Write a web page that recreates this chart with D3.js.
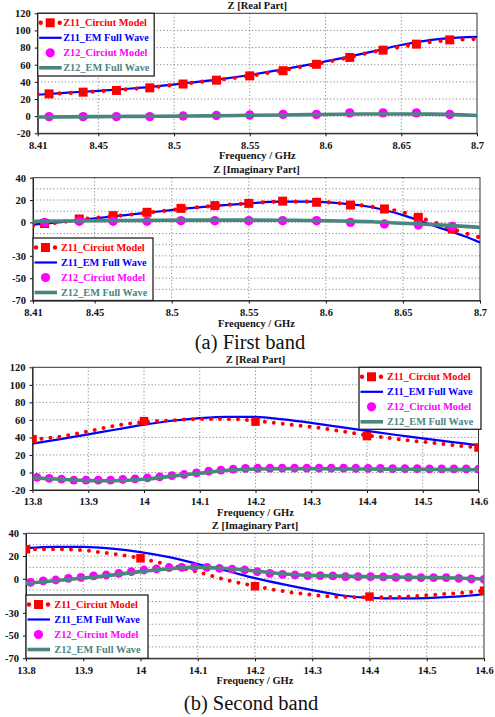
<!DOCTYPE html>
<html>
<head>
<meta charset="utf-8">
<script src="https://cdn.jsdelivr.net/npm/d3@7"></script>
<style>
body { margin: 0; background: #fff; }
svg { display: block; }
</style>
</head>
<body>
<svg id="chart" width="495" height="717"></svg>
<script>
// ---- First band (8.41 - 8.7 GHz) ----
const band1F = [8.41, 8.43, 8.45, 8.47, 8.49, 8.51, 8.53, 8.55, 8.57, 8.59, 8.61, 8.63, 8.65, 8.67, 8.69, 8.70];
const band1MarkF = [8.4175, 8.44, 8.462, 8.484, 8.506, 8.528, 8.55, 8.572, 8.594, 8.616, 8.638, 8.66, 8.682];

// real part
const z11EmRe1 = [25, 27.5, 29.5, 32, 35, 39, 43, 48, 54, 60.5, 67.5, 75, 83, 89, 92, 92.5];
const z11CirRe1 = [25.5, 27, 29, 31.5, 34.5, 38.5, 42.5, 47, 53, 59.5, 66.5, 74.5, 81, 86.5, 89.5, 90];
const z11CirRe1Mark = [26, 28, 30, 33, 37.5, 42, 47, 53, 60.5, 68.5, 77, 84, 89];
const z12CirRe1 = [-0.5, -0.5, -0.5, -0.5, 0.2, 0.8, 1.3, 2, 2, 3.8, 3.8, 3.8, 2];
const z12EmRe1 = [-1, -0.8, -0.5, -0.3, -0.1, 0.2, 0.5, 1, 1.4, 1.8, 2.2, 2.5, 2.6, 2.4, 1.5, 0.8];

// imaginary part
const z11EmIm1 = [-2, 0.5, 3.5, 6.5, 9.5, 12.5, 15, 17, 18.5, 18.5, 17, 13.5, 6.5, -3, -12.5, -18];
const z11CirIm1 = [-3, 0.5, 4, 6.5, 9.5, 12.5, 15, 17, 18.5, 18.5, 17, 14, 9, 0, -9.5, -13.5];
const z11CirIm1Mark = [-1, 3, 6, 9, 12.5, 15, 17, 19, 18, 15.5, 12, 4.5, -6];
const z12CirIm1 = [0, 1, 1, 1, 1.5, 1.5, 1.5, 1.5, 1.5, 0, -1.5, -2.4, -3.6];
const z12EmIm1 = [1, 1.2, 1.5, 1.7, 1.9, 2, 2, 2, 1.9, 1.7, 1.2, 0.5, -0.8, -2, -3.6, -4.5];

// ---- Second band (13.8 - 14.6 GHz) ----
const band2F = [13.8, 13.85, 13.9, 13.95, 14.0, 14.05, 14.1, 14.15, 14.2, 14.25, 14.3, 14.35, 14.4, 14.45, 14.5, 14.55, 14.6];
const band2SqF = [13.8, 14.0, 14.2, 14.4, 14.6];
const band2CircF = [13.808, 13.830, 13.852, 13.874, 13.896, 13.918, 13.940, 13.962, 13.984, 14.006,
  14.028, 14.050, 14.072, 14.094, 14.116, 14.138, 14.160, 14.182, 14.204, 14.226,
  14.248, 14.270, 14.292, 14.314, 14.336, 14.358, 14.380, 14.402, 14.424, 14.446,
  14.468, 14.490, 14.512, 14.534, 14.556, 14.578, 14.600];

// real part
const z11EmRe2 = [33, 38, 43.5, 49, 54.5, 59, 62, 63.5, 63.5, 60.5, 56.5, 52, 47.5, 43, 39, 35, 31];
const z11CirRe2 = [37.5, 41, 47, 53.5, 57.5, 59.5, 61, 61, 59, 55.5, 52, 47.5, 42.5, 38.5, 35, 31.5, 28.5];
const z11CirRe2Mark = [38, 58.6, 58, 41.5, 28.5];
const z12CirRe2 = [-5.7, -6.8, -7.6, -8.8, -8.8, -8.8, -8.8, -8.0, -7.2, -6.1, -5.0, -3.5, -2.3, -0.4, 1.5, 2.7, 3.8, 4.6,
  4.8, 5, 5, 5, 5, 5, 5, 4.9, 4.8, 4.7, 4.6, 4.5, 4.4, 4.3, 4.2, 4.1, 4.0, 4.0, 3.9];
const z12EmRe2 = [-6.2, -7.8, -9.3, -9.4, -7.8, -4.2, -0.8, 2.6, 4.0, 4.3, 4.3, 4.1, 3.9, 3.7, 3.5, 3.3, 3.1];

// imaginary part
const z11EmIm2 = [27, 28, 28, 26.5, 23.5, 19, 13, 7, 0.5, -5, -10, -14.5, -16.8, -17.3, -17, -15.8, -13.5];
const z11CirIm2 = [26, 26, 25, 22, 18, 12, 6, -1, -6.5, -11, -14.2, -16, -16.3, -16, -14.5, -12.8, -10.5];
const z11CirIm2Mark = [26, 18, -6.6, -15.7, -10.5];
const z12CirIm2 = [-3.1, -1.9, -1.1, 0.4, 1.3, 2.5, 3.3, 4.8, 6.3, 7.7, 8.6, 9.8, 10.1, 10.4, 10.1, 9.2, 8.4, 7.7,
  6.3, 4.8, 3.8, 3.3, 2.7, 2.7, 2.5, 1.9, 1.9, 1.9, 1.6, 1.3, 1.3, 1.0, 1.0, 1.0, 0.4, -0.2, -0.5];
const z12EmIm2 = [-4, -1.8, 0.6, 3.2, 6.3, 8.8, 10, 9, 6.8, 4.2, 3, 2.3, 1.8, 1.5, 1.1, 0.6, -0.2];

// ---- axes ----
const band1Ticks = [8.41, 8.45, 8.5, 8.55, 8.6, 8.65, 8.7];
const band2Ticks = [13.8, 13.9, 14, 14.1, 14.2, 14.3, 14.4, 14.5, 14.6];
const realTicks = [-20, 0, 20, 40, 60, 80, 100, 120];
const imagTicks = [-70, -50, -30, 0, 20, 40];
const imagGrid = [-60, -50, -40, -30, -20, -10, 0, 10, 20, 30];

const legendNames = ["Z11_Circiut Model", "Z11_EM Full Wave", "Z12_Circiut Model", "Z12_EM Full Wave"];

const svg = d3.select("#chart");
const FONT = "'Liberation Serif', 'Times New Roman', serif";
const RED = "#ff0000", BLUE = "#0000ff", MAGENTA = "#ff00ff", TEAL = "#4b857f";
const colors = [RED, BLUE, MAGENTA, TEAL];

function drawPanel(p, idx) {
    const x = d3.scaleLinear().domain(p.xDomain).range([p.left, p.right]);
    const y = d3.scaleLinear().domain(p.yDomain).range([p.bottom, p.top]);
    const g = svg.append("g");

    g.append("clipPath").attr("id", "clip" + idx)
        .append("rect")
        .attr("x", p.left).attr("y", p.top)
        .attr("width", p.right - p.left).attr("height", p.bottom - p.top);

    // grid
    g.append("g").selectAll("line")
        .data(p.xTicks.slice(1, -1))
        .join("line")
        .attr("x1", d => x(d)).attr("x2", d => x(d))
        .attr("y1", p.top).attr("y2", p.bottom)
        .attr("stroke", "#8a8a8a").attr("stroke-dasharray", "1.2,2.2");
    g.append("g").selectAll("line")
        .data(p.yGrid)
        .join("line")
        .attr("x1", p.left).attr("x2", p.right)
        .attr("y1", d => y(d)).attr("y2", d => y(d))
        .attr("stroke", "#8a8a8a").attr("stroke-dasharray", "1.2,2.2");

    // axes
    const ax = g.append("g")
        .attr("transform", `translate(0,${p.bottom})`)
        .call(d3.axisBottom(x).tickValues(p.xTicks).tickFormat(d => String(d))
            .tickSizeInner(3).tickSizeOuter(0).tickPadding(5));
    const ay = g.append("g")
        .attr("transform", `translate(${p.left},0)`)
        .call(d3.axisLeft(y).tickValues(p.yTicks).tickFormat(d => String(d))
            .tickSizeInner(3).tickSizeOuter(0).tickPadding(4));
    [ax, ay].forEach(a => {
        a.attr("font-family", FONT).attr("font-size", 10.5).attr("font-weight", "bold");
        a.selectAll("text").attr("fill", "#111");
        a.selectAll("path, line").attr("stroke", "#111");
    });

    g.append("rect")
        .attr("x", p.left).attr("y", p.top)
        .attr("width", p.right - p.left).attr("height", p.bottom - p.top)
        .attr("fill", "none").attr("stroke", "#333").attr("stroke-width", 1);

    const plot = g.append("g").attr("clip-path", `url(#clip${idx})`);
    const line = d3.line().x(d => x(d[0])).y(d => y(d[1])).curve(d3.curveMonotoneX);

    // Z11 EM full wave
    plot.append("path")
        .attr("d", line(d3.zip(p.lineF, p.blue)))
        .attr("fill", "none").attr("stroke", BLUE).attr("stroke-width", 2.2);

    // Z11 circuit model: dotted line + squares
    plot.append("path")
        .attr("d", line(d3.zip(p.lineF, p.red)))
        .attr("fill", "none").attr("stroke", RED).attr("stroke-width", p.dotW)
        .attr("stroke-linecap", "round").attr("stroke-dasharray", `0,${p.dotGap}`);
    plot.append("g").selectAll("rect")
        .data(d3.zip(p.sqF, p.sqV))
        .join("rect")
        .attr("x", d => x(d[0]) - p.sq / 2).attr("y", d => y(d[1]) - p.sq / 2)
        .attr("width", p.sq).attr("height", p.sq)
        .attr("fill", RED);

    // Z12 circuit model circles
    plot.append("g").selectAll("circle")
        .data(d3.zip(p.ciF, p.ciV))
        .join("circle")
        .attr("cx", d => x(d[0])).attr("cy", d => y(d[1]))
        .attr("r", p.cr).attr("fill", MAGENTA);

    // Z12 EM full wave
    plot.append("path")
        .attr("d", line(d3.zip(p.lineF, p.teal)))
        .attr("fill", "none").attr("stroke", TEAL).attr("stroke-width", 3.6);

    // titles
    const cx = (p.left + p.right) / 2;
    g.append("text").attr("x", cx).attr("y", p.top - 4.5)
        .attr("text-anchor", "middle").attr("font-family", FONT)
        .attr("font-size", 10.5).attr("font-weight", "bold").attr("fill", "#111")
        .text(p.title);
    g.append("text").attr("x", cx).attr("y", p.bottom + 26)
        .attr("text-anchor", "middle").attr("font-family", FONT)
        .attr("font-size", 10.5).attr("font-weight", "bold").attr("fill", "#111")
        .text("Frequency / GHz");

    // legend
    const L = p.legend;
    const lg = g.append("g").attr("transform", `translate(${L.x},${L.y})`);
    lg.append("rect").attr("width", L.w).attr("height", L.h)
        .attr("fill", "#fff").attr("stroke", "#222").attr("stroke-width", 1.3);
    legendNames.forEach((name, i) => {
        const ry = 9.5 + i * 15;
        if (i === 0) {
            [3, 22].forEach(dx => lg.append("circle").attr("cx", dx).attr("cy", ry).attr("r", 2.2).attr("fill", RED));
            lg.append("rect").attr("x", 12.5 - 4.5).attr("y", ry - 4.5).attr("width", 9).attr("height", 9).attr("fill", RED);
        } else if (i === 2) {
            lg.append("circle").attr("cx", 12.5).attr("cy", ry).attr("r", 4.6).attr("fill", MAGENTA);
        } else {
            lg.append("line").attr("x1", 1.5).attr("x2", 24).attr("y1", ry).attr("y2", ry)
                .attr("stroke", colors[i]).attr("stroke-width", i === 1 ? 2.2 : 3.6);
        }
        lg.append("text").attr("x", L.tx).attr("y", ry).attr("dy", "0.35em")
            .attr("font-family", FONT).attr("font-size", 10.3).attr("font-weight", "bold")
            .attr("fill", colors[i]).text(name);
    });
}

const panels = [
    {
        left: 37.7, right: 477, top: 13.3, bottom: 133.3,
        xDomain: [8.41, 8.7], yDomain: [-20, 120],
        xTicks: band1Ticks, yTicks: realTicks, yGrid: [0, 20, 40, 60, 80, 100],
        title: "Z [Real Part]",
        lineF: band1F, blue: z11EmRe1, red: z11CirRe1, teal: z12EmRe1,
        sqF: band1MarkF, sqV: z11CirRe1Mark, ciF: band1MarkF, ciV: z12CirRe1,
        sq: 9, cr: 4.7, dotW: 4.2, dotGap: 11,
        legend: {x: 37.7, y: 13.3, w: 116.5, h: 62.7, tx: 25.5}
    },
    {
        left: 33, right: 480, top: 177.7, bottom: 300.5,
        xDomain: [8.41, 8.7], yDomain: [-70, 40],
        xTicks: band1Ticks, yTicks: imagTicks, yGrid: imagGrid,
        title: "Z [Imaginary Part]",
        lineF: band1F, blue: z11EmIm1, red: z11CirIm1, teal: z12EmIm1,
        sqF: band1MarkF, sqV: z11CirIm1Mark, ciF: band1MarkF, ciV: z12CirIm1,
        sq: 9, cr: 4.7, dotW: 4.2, dotGap: 11,
        legend: {x: 33, y: 238, w: 120, h: 62.5, tx: 28}
    },
    {
        left: 32.5, right: 478.5, top: 367.3, bottom: 490,
        xDomain: [13.8, 14.6], yDomain: [-20, 120],
        xTicks: band2Ticks, yTicks: realTicks, yGrid: [0, 20, 40, 60, 80, 100],
        title: "Z [Real Part]",
        lineF: band2F, blue: z11EmRe2, red: z11CirRe2, teal: z12EmRe2,
        sqF: band2SqF, sqV: z11CirRe2Mark, ciF: band2CircF, ciV: z12CirRe2,
        sq: 8.5, cr: 4.4, dotW: 4, dotGap: 9,
        legend: {x: 359, y: 367.3, w: 122, h: 62, tx: 28}
    },
    {
        left: 26, right: 484, top: 533.3, bottom: 658.3,
        xDomain: [13.8, 14.6], yDomain: [-70, 40],
        xTicks: band2Ticks, yTicks: imagTicks, yGrid: imagGrid,
        title: "Z [Imaginary Part]",
        lineF: band2F, blue: z11EmIm2, red: z11CirIm2, teal: z12EmIm2,
        sqF: band2SqF, sqV: z11CirIm2Mark, ciF: band2CircF, ciV: z12CirIm2,
        sq: 8.5, cr: 4.4, dotW: 4, dotGap: 9,
        legend: {x: 26, y: 595, w: 122, h: 63.3, tx: 28.3}
    }
];

panels.forEach((p, i) => drawPanel(p, i));

// captions
svg.append("text").attr("x", 250).attr("y", 349)
    .attr("text-anchor", "middle").attr("font-family", FONT).attr("font-size", 20.5)
    .attr("fill", "#111").text("(a) First band");
svg.append("text").attr("x", 251).attr("y", 710)
    .attr("text-anchor", "middle").attr("font-family", FONT).attr("font-size", 20.5)
    .attr("fill", "#111").text("(b) Second band");
</script>
</body>
</html>
